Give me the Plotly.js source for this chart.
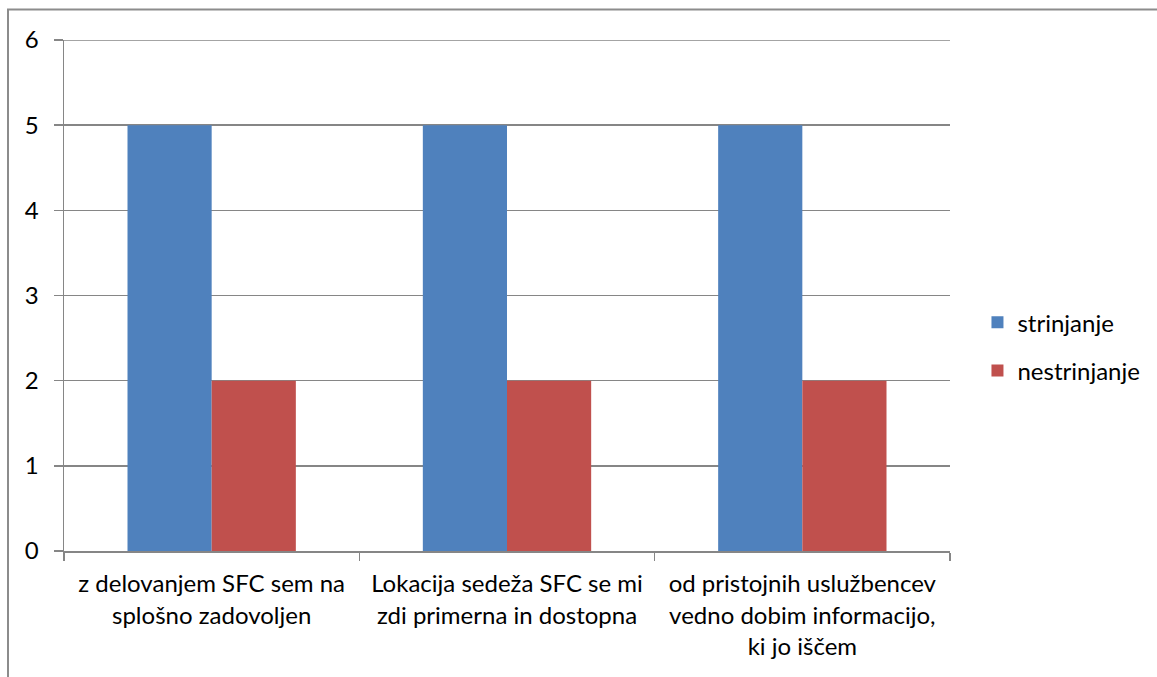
<!DOCTYPE html>
<html><head><meta charset="utf-8">
<script src="https://cdn.plot.ly/plotly-3.0.1.min.js"></script>
<style>html,body{margin:0;padding:0;background:#fff}#c{width:1157px;height:677px}</style>
</head><body><div id="c"></div>
<script>
const categories = [
  "z delovanjem SFC sem na<br>splošno zadovoljen",
  "Lokacija sedeža SFC se mi<br>zdi primerna in dostopna",
  "od pristojnih uslužbencev<br>vedno dobim informacijo,<br>ki jo iščem"
];
const seriesNames = ["strinjanje", "nestrinjanje"];
const strinjanje = [5, 5, 5];
const nestrinjanje = [2, 2, 2];
const yTicks = [0, 1, 2, 3, 4, 5, 6];

const font = {family: "Lato, 'Open Sans', sans-serif", size: 24, color: "#000"};
const gray = "#868686";

const traces = [
  {type: "bar", name: seriesNames[0], x: categories, y: strinjanje, marker: {color: "#4F81BD"}, legendgroup: "a"},
  {type: "bar", name: seriesNames[1], x: categories, y: nestrinjanje, marker: {color: "#C0504D"}, legendgroup: "b"}
];

const layout = {
  width: 1157, height: 677,
  margin: {l: 64, r: 207, t: 40, b: 126, autoexpand: false},
  paper_bgcolor: "#fff", plot_bgcolor: "#fff",
  font: font,
  barmode: "group", bargap: 0.43, bargroupgap: 0,
  showlegend: true,
  legend: {x: 1.031, y: 0.40, xanchor: "left", yanchor: "middle", font: font,
           traceorder: "grouped", tracegroupgap: 14, itemwidth: 30},
  xaxis: {
    type: "category", tickson: "boundaries", ticks: "outside", ticklen: 8, tickwidth: 1.5, tickcolor: gray,
    showline: true, linecolor: gray, linewidth: 1.5, showgrid: false, tickfont: font, automargin: false,
    ticklabelstandoff: 11
  },
  yaxis: {
    range: [0, 6], tickvals: yTicks, ticks: "outside", ticklen: 9, tickwidth: 1.5, tickcolor: gray,
    showline: true, linecolor: gray, linewidth: 1.5, showgrid: true, gridcolor: gray, gridwidth: 1.5,
    zeroline: false, tickfont: font, ticklabelstandoff: 10, automargin: false
  },
  shapes: [
    {type: "rect", xref: "paper", yref: "paper", x0: -0.0632, x1: 1.3, y0: -0.3, y1: 1.0597,
     line: {color: "#8c8c8c", width: 2}, fillcolor: "rgba(0,0,0,0)", layer: "below"},
    {type: "line", xref: "paper", yref: "y", x0: 0, x1: 1, y0: 6, y1: 6,
     line: {color: gray, width: 1.5}, layer: "below"}
  ]
};

Plotly.newPlot("c", traces, layout, {displayModeBar: false, staticPlot: true});
</script></body></html>
